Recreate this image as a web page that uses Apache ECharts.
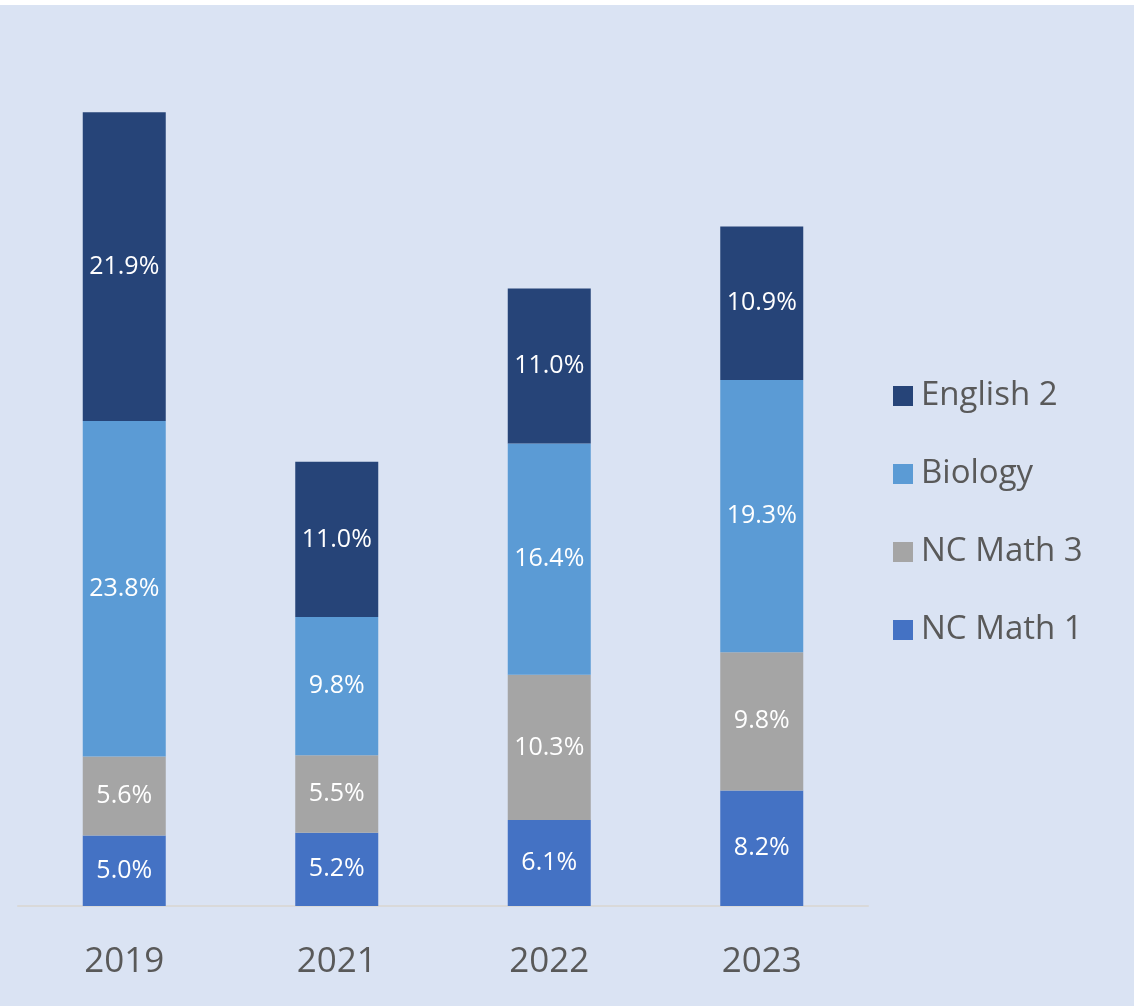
<!DOCTYPE html>
<html>
<head>
<meta charset="utf-8">
<script src="https://cdn.jsdelivr.net/npm/echarts@6/dist/echarts.min.js"></script>
<style>
  html, body { margin: 0; padding: 0; background: #ffffff; }
  #chart { position: absolute; left: 0; top: 5px; width: 1134px; height: 1001px; background: #dae3f3; }
</style>
</head>
<body>
<div id="chart"></div>
<script>
// 年份
const years = ['2019', '2021', '2022', '2023'];
// 各科目数值 (%)
const math1 = [5.0, 5.2, 6.1, 8.2];
const math3 = [5.6, 5.5, 10.3, 9.8];
const biology = [23.8, 9.8, 16.4, 19.3];
const english2 = [21.9, 11.0, 11.0, 10.9];

const chart = echarts.init(document.getElementById('chart'));

const labelStyle = {
  show: true,
  position: 'inside',
  color: '#ffffff',
  fontFamily: 'Open Sans',
  fontSize: 25,
  formatter: p => p.value.toFixed(1) + '%'
};

function makeSeries(name, data, color) {
  return {
    name: name,
    type: 'bar',
    stack: 'total',
    barWidth: 83,
    data: data,
    itemStyle: { color: color },
    label: labelStyle
  };
}

chart.setOption({
  animation: false,
  backgroundColor: '#dae3f3',
  grid: { left: 18, right: 266, top: 55, bottom: 100 },
  legend: {
    orient: 'vertical',
    left: 888,
    top: 366,
    itemWidth: 20,
    itemHeight: 20,
    itemGap: 38,
    icon: 'rect',
    data: ['English 2', 'Biology', 'NC Math 3', 'NC Math 1'],
    textStyle: { color: '#595959', fontFamily: 'Open Sans', fontSize: 33, lineHeight: 40, padding: [0, 0, 0, 3] }
  },
  xAxis: {
    type: 'category',
    data: years,
    axisLine: { lineStyle: { color: '#d9d9d9', width: 2 } },
    axisTick: { show: false },
    axisLabel: { color: '#595959', fontFamily: 'Open Sans', fontSize: 35, margin: 39 }
  },
  yAxis: {
    type: 'value',
    min: 0,
    max: 60,
    show: false
  },
  series: [
    makeSeries('NC Math 1', math1, '#4472c4'),
    makeSeries('NC Math 3', math3, '#a5a5a5'),
    makeSeries('Biology', biology, '#5b9bd5'),
    makeSeries('English 2', english2, '#264478')
  ]
});
</script>
</body>
</html>
